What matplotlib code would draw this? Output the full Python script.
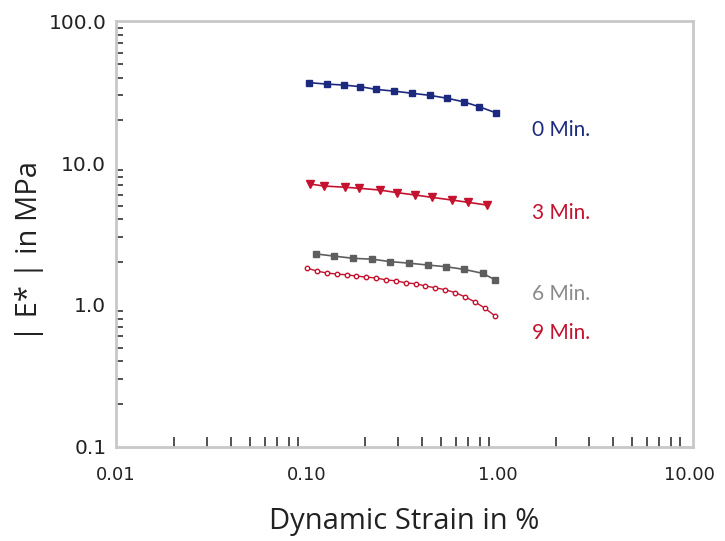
# |E*| versus dynamic strain for four cure times (log-log).

import matplotlib
matplotlib.use('Agg')
import matplotlib.pyplot as plt
from matplotlib.ticker import LogLocator, FixedLocator, NullFormatter

# data
strain_0 = [0.103, 0.127, 0.157, 0.190, 0.231, 0.286, 0.355, 0.438, 0.541, 0.661, 0.798, 0.973]
modulus_0 = [36.8, 36.0, 35.4, 34.5, 33.0, 32.1, 31.0, 30.0, 28.6, 27.0, 24.9, 22.6]

strain_3 = [0.104, 0.122, 0.158, 0.187, 0.241, 0.297, 0.369, 0.450, 0.572, 0.693, 0.873]
modulus_3 = [7.11, 6.89, 6.75, 6.64, 6.45, 6.18, 5.95, 5.73, 5.49, 5.29, 5.06]

strain_6 = [0.111, 0.138, 0.175, 0.220, 0.272, 0.341, 0.430, 0.533, 0.666, 0.830, 0.969]
modulus_6 = [2.29, 2.21, 2.13, 2.10, 2.02, 1.97, 1.91, 1.86, 1.78, 1.67, 1.50]

strain_9 = [0.100, 0.113, 0.127, 0.143, 0.161, 0.181, 0.204, 0.230, 0.259, 0.292,
            0.329, 0.370, 0.417, 0.470, 0.530, 0.597, 0.672, 0.757, 0.853, 0.960]
modulus_9 = [1.82, 1.73, 1.68, 1.65, 1.63, 1.60, 1.57, 1.55, 1.50, 1.48,
             1.43, 1.41, 1.36, 1.32, 1.28, 1.22, 1.14, 1.05, 0.95, 0.84]

labels = ['0 Min.', '3 Min.', '6 Min.', '9 Min.']
label_y = [17.1, 4.45, 1.195, 0.635]
label_x = 1.51

x_ticks = [0.01, 0.1, 1, 10]
x_ticklabels = ['0.01', '0.10', '1.00', '10.00']
y_ticks = [0.1, 1, 10, 100]
y_ticklabels = ['0.1', '1.0', '10.0', '100.0']

navy = '#1b2a7e'
red = '#c4122f'
grey = '#5e5e5e'
grey_txt = '#8a8a8a'

fig = plt.figure(figsize=(7.25, 5.41), dpi=100)
ax = fig.add_axes([0.160, 0.174, 0.796, 0.787])

ax.plot(strain_0, modulus_0, color=navy, lw=1.2, marker='s', ms=4.5, mec=navy, mfc=navy)
ax.plot(strain_3, modulus_3, color=red, lw=1.2, marker='v', ms=5.5, mec=red, mfc=red)
ax.plot(strain_6, modulus_6, color=grey, lw=1.2, marker='s', ms=5, mec=grey, mfc=grey)
ax.plot(strain_9, modulus_9, color=red, lw=1.0, marker='o', ms=3.2, mec=red, mfc='white', mew=1.0)

for lab, ly, col in zip(labels, label_y, [navy, red, grey_txt, red]):
    ax.text(label_x, ly, lab, color=col, fontsize=15, family='Lato',
            ha='left', va='center')

ax.set_xscale('log')
ax.set_yscale('log')
ax.set_xlim(0.01, 10.5)
ax.set_ylim(0.1, 100)

ax.xaxis.set_major_locator(FixedLocator(x_ticks))
ax.set_xticklabels(x_ticklabels)
ax.yaxis.set_major_locator(FixedLocator(y_ticks))
ax.set_yticklabels(y_ticklabels)
ax.xaxis.set_minor_locator(LogLocator(base=10, subs=range(2, 10), numticks=20))
ax.yaxis.set_minor_locator(LogLocator(base=10, subs=range(2, 10), numticks=20))
ax.xaxis.set_minor_formatter(NullFormatter())
ax.yaxis.set_minor_formatter(NullFormatter())

ax.tick_params(axis='x', which='minor', direction='in', length=7, width=1.2, color='#333333')
ax.tick_params(axis='y', which='minor', direction='in', length=5, width=1.2, color='#333333')
ax.tick_params(which='major', length=0)
ax.tick_params(axis='x', which='major', pad=14, labelsize=13, labelcolor='#222222')
ax.tick_params(axis='y', which='major', pad=7, labelsize=14.5, labelcolor='#222222')

for s in ax.spines.values():
    s.set_color('#c8c8c8')
    s.set_linewidth(2)

ax.set_xlabel('Dynamic Strain in %', fontsize=21, family='Open Sans', labelpad=16, color='#222222')
ax.set_ylabel('| E* | in MPa', fontsize=21, family='Open Sans', color='#222222')
ax.yaxis.set_label_coords(-0.125, 0.46)

fig.savefig('out.png', dpi=100)
